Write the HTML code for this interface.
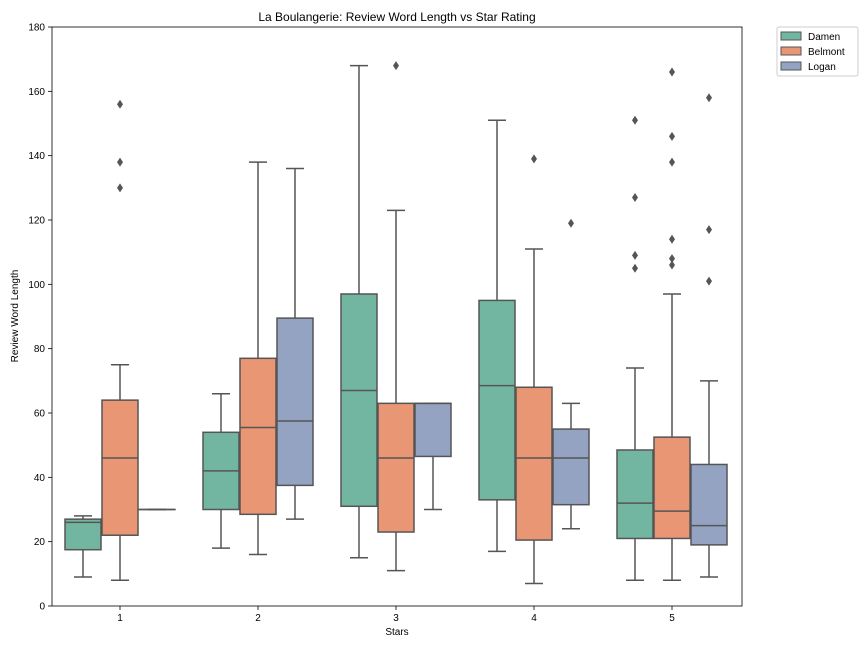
<!DOCTYPE html>
<html><head><meta charset="utf-8"><style>
body{margin:0;background:#fff;font-family:"Liberation Sans","DejaVu Sans",sans-serif}
text{font-family:"Liberation Sans","DejaVu Sans",sans-serif}
</style></head><body>
<svg id="chart" width="864" height="648" xmlns="http://www.w3.org/2000/svg">
<rect width="864" height="648" fill="#fff"/>
<text x="397" y="21" font-size="12" text-anchor="middle">La Boulangerie: Review Word Length vs Star Rating</text>
<g id="plot"></g>
<rect x="52" y="27" width="690" height="579" fill="none" stroke="#000" stroke-width="0.8"/>
<text x="397" y="635" font-size="10" text-anchor="middle">Stars</text>
<text x="18" y="316" font-size="10" text-anchor="middle" transform="rotate(-90 18 316)">Review Word Length</text>
<g id="legend">
<rect x="777" y="27" width="81" height="49" fill="#fff" stroke="#ccc" rx="2"/>
</g>
</svg>
<script>
const categories=["1","2","3","4","5"];
const seriesNames=["Damen","Belmont","Logan"];
const colors=["#72b6a1","#e99675","#95a3c3"];
const yTicks=[0,20,40,60,80,100,120,140,160,180];
// [low whisker, q1, median, q3, high whisker] per category
const damen=[[9,17.5,26,27,28],[18,30,42,54,66],[15,31,67,97,168],[17,33,68.5,95,151],[8,21,32,48.5,74]];
const belmont=[[8,22,46,64,75],[16,28.5,55.5,77,138],[11,23,46,63,123],[7,20.5,46,68,111],[8,21,29.5,52.5,97]];
const logan=[[30,30,30,30,30],[27,37.5,57.5,89.5,136],[30,46.5,63,63,63],[24,31.5,46,55,63],[9,19,25,44,70]];
const damenOut=[[],[],[],[],[105,109,127,151]];
const belmontOut=[[130,138,156],[],[168],[139],[106,108,114,138,146,166]];
const loganOut=[[],[],[],[119],[101,117,158]];
const series=[damen,belmont,logan];
const outs=[damenOut,belmontOut,loganOut];
const NS="http://www.w3.org/2000/svg";
const y=v=>606-v*(579/180);
const x=i=>120+i*138;
const plot=document.getElementById('plot');
const svg=document.getElementById('chart');
function mk(tag,attrs,parent){const e=document.createElementNS(NS,tag);for(const k in attrs)e.setAttribute(k,attrs[k]);(parent||plot).appendChild(e);return e;}
yTicks.forEach(t=>{
 const l=mk('line',{x1:48,x2:52,y1:y(t),y2:y(t),stroke:'#000','stroke-width':0.8},svg);
 
 
 const tx=mk('text',{x:45,y:y(t)+3.5,'font-size':10,'text-anchor':'end'},svg);
 tx.textContent=t;
 
 
});
categories.forEach((c,i)=>{
 const l=mk('line',{x1:x(i),x2:x(i),y1:606,y2:610,stroke:'#000','stroke-width':0.8},svg);
 
 
 const tx=mk('text',{x:x(i),y:621,'font-size':10,'text-anchor':'middle'},svg);
 tx.textContent=c;
 
 
});
const bw=36,off=37,lc='#555';
series.forEach((s,si)=>{
 s.forEach((d,i)=>{
  const cx=x(i)+(si-1)*off;
  const g=mk('g',{});
  
  
  mk('line',{x1:cx,x2:cx,y1:y(d[0]),y2:y(d[1]),stroke:lc,'stroke-width':1.5},g);
  mk('line',{x1:cx,x2:cx,y1:y(d[3]),y2:y(d[4]),stroke:lc,'stroke-width':1.5},g);
  mk('line',{x1:cx-9,x2:cx+9,y1:y(d[0]),y2:y(d[0]),stroke:lc,'stroke-width':1.5},g);
  mk('line',{x1:cx-9,x2:cx+9,y1:y(d[4]),y2:y(d[4]),stroke:lc,'stroke-width':1.5},g);
  mk('rect',{x:cx-bw/2,y:y(d[3]),width:bw,height:Math.max(0.01,y(d[1])-y(d[3])),fill:colors[si],stroke:lc,'stroke-width':1.5},g);
  mk('line',{x1:cx-bw/2,x2:cx+bw/2,y1:y(d[2]),y2:y(d[2]),stroke:lc,'stroke-width':1.5},g);
  outs[si][i].forEach(v=>{
   const p=mk('polygon',{points:`${cx},${y(v)-4.5} ${cx+3},${y(v)} ${cx},${y(v)+4.5} ${cx-3},${y(v)}`,fill:'#555'},g);
   
   
  });
 });
});
const leg=document.getElementById('legend');
seriesNames.forEach((n,i)=>{
 const yy=36+i*15;
 const r=mk('rect',{x:781,y:yy-4,width:20,height:8,fill:colors[i],stroke:lc,'stroke-width':1},leg);
 
 
 const t=mk('text',{x:808,y:yy+4,'font-size':10},leg);
 t.textContent=n;
 
 
});
</script>
</body></html>
